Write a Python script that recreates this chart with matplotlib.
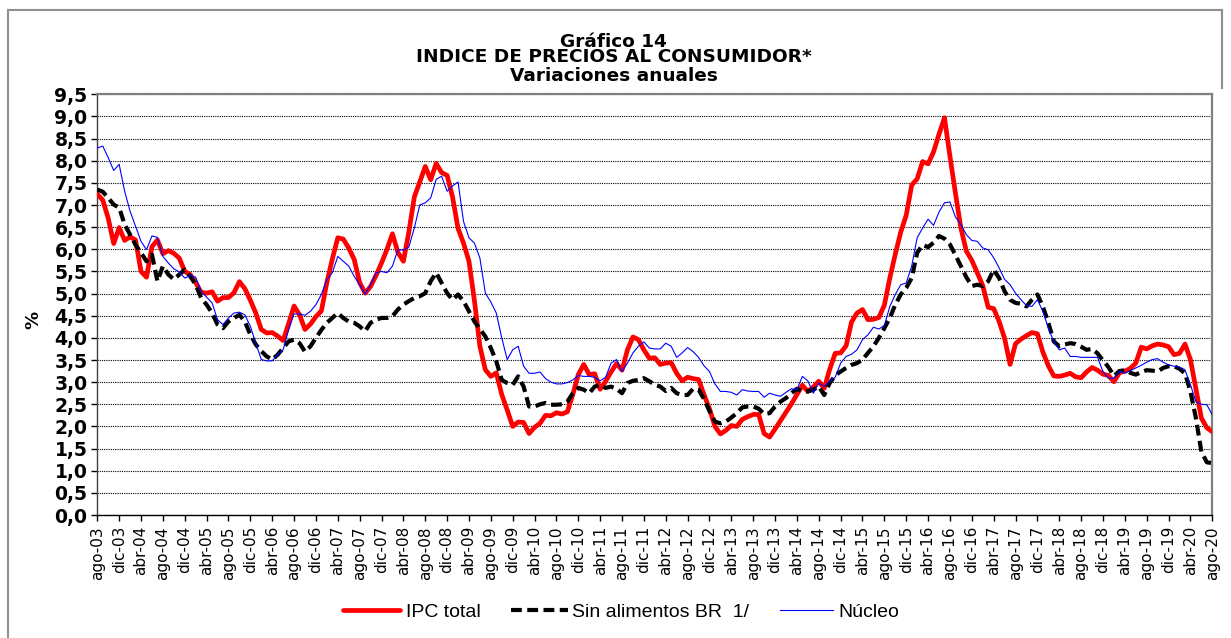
import numpy as np
import matplotlib
matplotlib.use("Agg")
import matplotlib.pyplot as plt
from matplotlib.lines import Line2D

# ---------------- data (monthly, ago-03 .. ago-20) ----------------
ipc_total = [
    7.25, 7.11, 6.70, 6.13, 6.49, 6.20, 6.28, 6.21, 5.50, 5.37, 6.06, 6.21,
    5.90, 5.97, 5.91, 5.80, 5.50, 5.43, 5.25, 5.03, 5.01, 5.04, 4.83, 4.91,
    4.91, 5.02, 5.27, 5.11, 4.85, 4.56, 4.19, 4.11, 4.12, 4.04, 3.94, 4.32,
    4.72, 4.52, 4.19, 4.31, 4.48, 4.61, 5.25, 5.78, 6.26, 6.23, 6.03, 5.77,
    5.25, 5.01, 5.16, 5.41, 5.69, 6.00, 6.35, 5.93, 5.73, 6.39, 7.18, 7.52,
    7.87, 7.57, 7.94, 7.73, 7.67, 7.18, 6.47, 6.14, 5.73, 4.84, 3.81, 3.28,
    3.13, 3.21, 2.72, 2.37, 2.00, 2.10, 2.09, 1.84, 1.98, 2.07, 2.25, 2.24,
    2.31, 2.28, 2.33, 2.72, 3.17, 3.40, 3.17, 3.19, 2.84, 3.02, 3.23, 3.42,
    3.27, 3.73, 4.02, 3.96, 3.73, 3.54, 3.55, 3.40, 3.43, 3.44, 3.20, 3.03,
    3.11, 3.08, 3.06, 2.72, 2.40, 2.00, 1.83, 1.91, 2.02, 2.00, 2.16, 2.22,
    2.27, 2.27, 1.84, 1.76, 1.94, 2.13, 2.32, 2.51, 2.72, 2.93, 2.79, 2.89,
    3.02, 2.86, 3.29, 3.65, 3.66, 3.82, 4.36, 4.56, 4.64, 4.41, 4.42, 4.46,
    4.74, 5.35, 5.89, 6.39, 6.77, 7.45, 7.59, 7.98, 7.93, 8.20, 8.60, 8.97,
    8.10, 7.27, 6.48, 5.96, 5.75, 5.47, 5.18, 4.69, 4.66, 4.37, 3.99, 3.40,
    3.87, 3.97, 4.05, 4.12, 4.09, 3.68, 3.37, 3.14, 3.13, 3.16, 3.20, 3.12,
    3.10, 3.23, 3.33, 3.27, 3.18, 3.15, 3.01, 3.21, 3.25, 3.31, 3.43, 3.79,
    3.75, 3.82, 3.86, 3.84, 3.80, 3.62, 3.65, 3.86, 3.51, 2.85, 2.19, 1.97,
    1.88,
]

sin_alimentos = [
    7.35, 7.30, 7.16, 7.01, 6.94, 6.56, 6.33, 6.10, 5.92, 5.73, 5.88, 5.28,
    5.62, 5.43, 5.32, 5.43, 5.54, 5.39, 5.20, 4.90, 4.75, 4.56, 4.30, 4.22,
    4.37, 4.45, 4.52, 4.37, 4.07, 3.85, 3.70, 3.58, 3.51, 3.62, 3.77, 3.92,
    3.96, 3.88, 3.69, 3.81, 4.00, 4.18, 4.34, 4.45, 4.56, 4.45, 4.37, 4.34,
    4.26, 4.15, 4.34, 4.41, 4.45, 4.45, 4.49, 4.64, 4.75, 4.83, 4.90, 4.94,
    5.01, 5.28, 5.47, 5.24, 5.01, 4.86, 4.98, 4.83, 4.60, 4.37, 4.20, 4.03,
    3.77, 3.47, 3.05, 2.98, 2.94, 3.13, 2.90, 2.45, 2.45, 2.50, 2.53, 2.49,
    2.49, 2.50, 2.56, 2.75, 2.87, 2.83, 2.75, 2.90, 2.94, 2.87, 2.90, 2.85,
    2.75, 2.98, 3.03, 3.05, 3.09, 3.02, 2.94, 2.90, 2.80, 2.87, 2.75, 2.71,
    2.71, 2.85, 2.83, 2.62, 2.35, 2.11, 2.07, 2.11, 2.20, 2.30, 2.43, 2.45,
    2.45, 2.40, 2.28, 2.30, 2.45, 2.56, 2.64, 2.75, 2.85, 2.79, 2.79, 2.83,
    2.90, 2.71, 2.98, 3.15, 3.24, 3.32, 3.39, 3.43, 3.51, 3.66, 3.81, 4.00,
    4.22, 4.45, 4.75, 4.98, 5.13, 5.35, 5.92, 6.10, 6.05, 6.15, 6.30, 6.24,
    6.11, 5.87, 5.62, 5.37, 5.17, 5.20, 5.17, 5.28, 5.54, 5.35, 5.05, 4.86,
    4.79, 4.77, 4.71, 4.86, 4.98, 4.71, 4.34, 3.92, 3.81, 3.85, 3.88, 3.86,
    3.80, 3.73, 3.75, 3.65, 3.49, 3.34, 3.14, 3.25, 3.27, 3.21, 3.17, 3.23,
    3.27, 3.26, 3.24, 3.32, 3.36, 3.36, 3.30, 3.20, 2.79, 2.19, 1.43, 1.19,
    1.17,
]

nucleo = [
    8.29, 8.33, 8.07, 7.78, 7.92, 7.31, 6.86, 6.52, 6.18, 5.99, 6.30, 6.27,
    5.84, 5.69, 5.56, 5.49, 5.35, 5.41, 5.37, 5.05, 4.92, 4.79, 4.41, 4.30,
    4.45, 4.56, 4.58, 4.52, 4.26, 3.88, 3.51, 3.48, 3.48, 3.62, 3.73, 4.18,
    4.54, 4.54, 4.51, 4.60, 4.75, 4.98, 5.32, 5.47, 5.84, 5.73, 5.62, 5.39,
    5.20, 4.99, 5.20, 5.47, 5.50, 5.47, 5.62, 5.99, 5.98, 6.05, 6.48, 7.00,
    7.05, 7.16, 7.58, 7.65, 7.31, 7.43, 7.52, 6.63, 6.26, 6.14, 5.80, 5.01,
    4.81, 4.56, 4.00, 3.51, 3.73, 3.81, 3.36, 3.20, 3.20, 3.23, 3.08, 3.00,
    2.96, 2.96, 2.99, 3.05, 3.15, 3.13, 3.13, 3.11, 3.03, 3.11, 3.43, 3.51,
    3.24, 3.43, 3.66, 3.81, 3.91, 3.77, 3.75, 3.75, 3.88, 3.81, 3.56, 3.66,
    3.78, 3.69, 3.56, 3.37, 3.24, 2.96, 2.79, 2.79, 2.77, 2.71, 2.83, 2.80,
    2.79, 2.79, 2.66, 2.75, 2.71, 2.68, 2.77, 2.85, 2.83, 3.13, 3.03, 2.75,
    2.98, 2.90, 3.02, 3.11, 3.43, 3.58, 3.63, 3.73, 3.96, 4.07, 4.24, 4.20,
    4.28, 4.71, 4.98, 5.20, 5.24, 5.62, 6.26, 6.48, 6.68, 6.54, 6.84, 7.05,
    7.07, 6.73, 6.56, 6.33, 6.20, 6.18, 6.03, 5.99, 5.81, 5.58, 5.32, 5.20,
    5.01, 4.86, 4.73, 4.71, 4.86, 4.60, 4.22, 3.92, 3.73, 3.77, 3.58, 3.58,
    3.56, 3.56, 3.56, 3.56, 3.24, 3.09, 3.09, 3.24, 3.20, 3.26, 3.32, 3.38,
    3.45, 3.51, 3.53, 3.45, 3.39, 3.36, 3.34, 3.28, 2.94, 2.56, 2.50, 2.49,
    2.26,
]

tick_labels = [
    "ago-03", "dic-03", "abr-04", "ago-04", "dic-04", "abr-05", "ago-05",
    "dic-05", "abr-06", "ago-06", "dic-06", "abr-07", "ago-07", "dic-07",
    "abr-08", "ago-08", "dic-08", "abr-09", "ago-09", "dic-09", "abr-10",
    "ago-10", "dic-10", "abr-11", "ago-11", "dic-11", "abr-12", "ago-12",
    "dic-12", "abr-13", "ago-13", "dic-13", "abr-14", "ago-14", "dic-14",
    "abr-15", "ago-15", "dic-15", "abr-16", "ago-16", "dic-16", "abr-17",
    "ago-17", "dic-17", "abr-18", "ago-18", "dic-18", "abr-19", "ago-19",
    "dic-19", "abr-20", "ago-20",
]

series_names = ["IPC total", "Sin alimentos BR  1/", "Núcleo"]
title_lines = ["Gráfico 14", "INDICE DE PRECIOS AL CONSUMIDOR*", "Variaciones anuales"]

# ---------------- figure ----------------
W, H = 1231, 638
fig = plt.figure(figsize=(W / 100, H / 100), dpi=100)
fig.patch.set_facecolor("white")

def fx(px):
    return px / W

def fy(py):
    return 1 - py / H

ax_l, ax_r, ax_t, ax_b = 97.3, 1212.3, 94.3, 515.0
ax = fig.add_axes([fx(ax_l), fy(ax_b), fx(ax_r - ax_l), (ax_b - ax_t) / H])

x = np.arange(len(ipc_total))
ax.plot(x, ipc_total, color="#FF0000", lw=3.4, solid_joinstyle="round",
        solid_capstyle="round", zorder=3)
ax.plot(x, sin_alimentos, color="black", lw=3.0, dashes=(2.6, 1.3),
        dash_capstyle="butt", zorder=4)
ax.plot(x, nucleo, color="#0000FF", lw=0.8, zorder=5)

ax.set_xlim(0, len(ipc_total) - 1)
ax.set_ylim(0, 9.5)

yt = np.arange(0, 9.51, 0.5)
ax.set_yticks(yt)
ax.set_yticklabels([f"{v:.1f}".replace(".", ",") for v in yt],
                   fontfamily="DejaVu Sans", fontweight="bold", fontsize=13.5)
ax.set_xticks(np.arange(0, len(ipc_total), 4))
ax.set_xticklabels(tick_labels, rotation=90, fontfamily="DejaVu Sans",
                   fontsize=11)

ax.tick_params(axis="x", direction="out", length=4, width=1, pad=4, colors="black")
ax.tick_params(axis="y", direction="out", length=4, width=1, pad=3, colors="black")

ax.yaxis.grid(True, linestyle=(0, (1, 1)), color="black", lw=0.8)
ax.set_axisbelow(True)

ax.spines["left"].set_color("#404040")
ax.spines["left"].set_linewidth(1.0)
ax.spines["bottom"].set_color("black")
ax.spines["bottom"].set_linewidth(1.0)
for s in ("top", "right"):
    ax.spines[s].set_color("#808080")
    ax.spines[s].set_linewidth(1.6)

# y label
fig.text(fx(33), fy(320), "%", rotation=90, ha="center", va="center",
         fontfamily="DejaVu Sans", fontweight="bold", fontsize=13)

# titles
for line, base in zip(title_lines, (46.7, 62.5, 81.0)):
    fig.text(fx(613.5), fy(base), line, ha="center", va="baseline",
             fontfamily="DejaVu Sans", fontweight="bold", fontsize=13.3)

# legend (manual)
leg_y = 610
leg_items = [
    (343, 400, 406, dict(color="#FF0000", lw=3.4, solid_capstyle="round")),
    (511, 568, 572, dict(color="black", lw=3.0, dashes=(2.6, 1.3), dash_capstyle="butt")),
    (780, 833, 838, dict(color="#0000FF", lw=0.8)),
]
for name, (x0, x1, xt, style) in zip(series_names, leg_items):
    fig.add_artist(Line2D([fx(x0), fx(x1)], [fy(leg_y), fy(leg_y)],
                          transform=fig.transFigure, **style))
    fig.text(fx(xt), fy(leg_y + 7), name, ha="left", va="baseline",
             fontfamily="Liberation Sans", fontsize=14)

# outer frame
frame_kw = dict(transform=fig.transFigure, color="#909090", lw=1.5)
fig.add_artist(Line2D([fx(8), fx(1222)], [fy(10), fy(10)], **frame_kw))
fig.add_artist(Line2D([fx(8), fx(8)], [fy(10), fy(638)], **frame_kw))
fig.add_artist(Line2D([fx(1222), fx(1222)], [fy(10), fy(88)], **frame_kw))

fig.savefig("out.png", dpi=100, facecolor="white")
